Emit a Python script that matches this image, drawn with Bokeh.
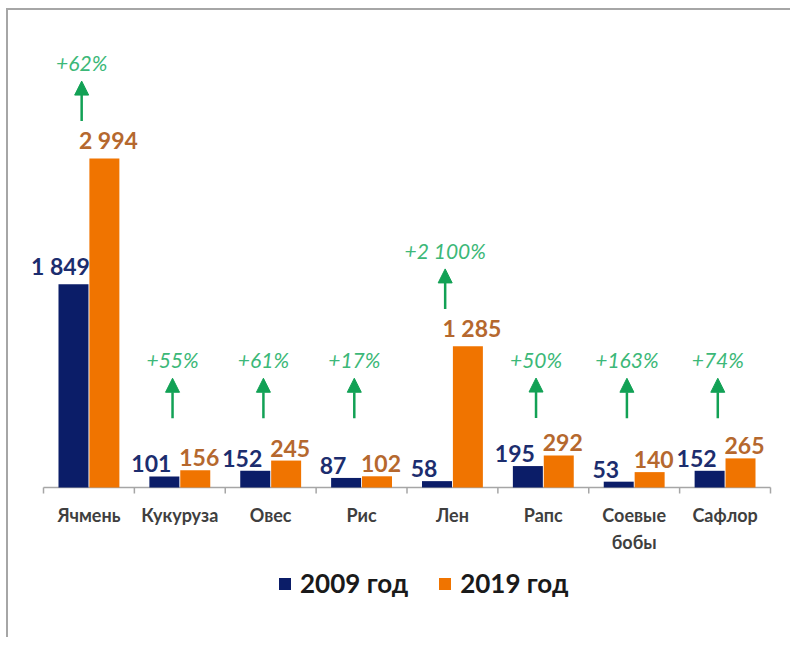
from bokeh.plotting import figure
from bokeh.models import (Range1d, Arrow, NormalHead, ColumnDataSource, Legend, LegendItem)
from bokeh.core.properties import value
from bokeh.embed import file_html
from bokeh.resources import INLINE

# ---- data ----
categories = ["Ячмень", "Кукуруза", "Овес", "Рис", "Лен", "Рапс", "Соевые\nбобы", "Сафлор"]
values_2009 = [1849, 101, 152, 87, 58, 195, 53, 152]
values_2019 = [2994, 156, 245, 102, 1285, 292, 140, 265]
growth_labels = ["+62%", "+55%", "+61%", "+17%", "+2 100%", "+50%", "+163%", "+74%"]
series_names = ["2009 год", "2019 год"]

# ---- styles ----
NAVY = "#0b1d68"
ORANGE = "#f07400"
NAVY_TXT = "#1c2d6e"
ORANGE_TXT = "#b5682e"
GREEN_TXT = "#3cb878"
GREEN_ARROW = "#12a155"
AXIS_GRAY = "#a6a6a6"
FONT = "Lato"

W, H = 784, 629
PX_PER_UNIT = 0.1099           # vertical scale (pixels per value unit)
CAT_PX = 90.875                # width of one category in pixels
LEFT_PX, BASE_PX = 35, 477     # category origin / baseline inside the canvas


def fmt(v):
    return f"{v:,}".replace(",", " ")


n = len(categories)
idx = list(range(n))
x09 = [i + 0.33 for i in idx]
x19 = [i + 0.67 for i in idx]
xa = [i + 0.42 for i in idx]
xc = [i + 0.5 for i in idx]
arrow_start = [max(v, 290) + 340 for v in values_2019]
arrow_end = [s + 364 for s in arrow_start]
tick_len = 6 / PX_PER_UNIT

src09 = ColumnDataSource(dict(x=x09, top=values_2009, lab=[fmt(v) for v in values_2009]))
src19 = ColumnDataSource(dict(x=x19, top=values_2019, lab=[fmt(v) for v in values_2019]))
srca = ColumnDataSource(dict(x=xa, ys=arrow_start, ye=arrow_end, lab=growth_labels))
srcc = ColumnDataSource(dict(x=xc, lab=categories))

x_range = Range1d(-LEFT_PX / CAT_PX, (W - LEFT_PX) / CAT_PX)
y_range = Range1d(-(H - BASE_PX) / PX_PER_UNIT, BASE_PX / PX_PER_UNIT)

p = figure(width=W, height=H, x_range=x_range, y_range=y_range,
           output_backend="svg", toolbar_location=None,
           x_axis_location=None, y_axis_location=None,
           min_border=0, min_border_left=0, min_border_right=0,
           min_border_top=0, min_border_bottom=0)
p.grid.visible = False
p.outline_line_color = None
p.background_fill_color = "white"
p.border_fill_color = "white"
p.styles = {"margin-left": "6px", "margin-top": "8px",
            "border-top": "2px solid #a6a6a6", "border-left": "2px solid #a6a6a6"}

# category axis (baseline + boundary ticks + labels)
p.segment(x0=[0], y0=[0], x1=[n], y1=[0], line_color=AXIS_GRAY, line_width=1.5)
p.segment(x0=list(range(n + 1)), y0=[0] * (n + 1), x1=list(range(n + 1)),
          y1=[-tick_len] * (n + 1), line_color=AXIS_GRAY, line_width=1.5)
p.text(x="x", y=0, text="lab", source=srcc, text_align="center", text_baseline="top",
       y_offset=16, text_color="#3f3f3f", text_font=value(FONT), text_font_style="bold",
       text_font_size="18px", text_line_height=1.25)

r09 = p.vbar(x="x", top="top", width=0.33, source=src09, fill_color=NAVY, line_color=None)
r19 = p.vbar(x="x", top="top", width=0.33, source=src19, fill_color=ORANGE, line_color=None)

p.text(x="x", y="top", text="lab", source=src09, text_align="center", text_baseline="bottom",
       x_offset=-13, y_offset=-4, text_color=NAVY_TXT, text_font=value(FONT),
       text_font_style="bold", text_font_size="23px")
p.text(x="x", y="top", text="lab", source=src19, text_align="center", text_baseline="bottom",
       x_offset=4, y_offset=-4, text_color=ORANGE_TXT, text_font=value(FONT),
       text_font_style="bold", text_font_size="23px")

p.add_layout(Arrow(end=NormalHead(size=14, fill_color=GREEN_ARROW, line_color=GREEN_ARROW),
                   x_start="x", y_start="ys", x_end="x", y_end="ye", source=srca,
                   line_color=GREEN_ARROW, line_width=2.5))
p.text(x="x", y="ye", text="lab", source=srca, text_align="center", text_baseline="bottom",
       y_offset=-6, text_color=GREEN_TXT, text_font=value(FONT), text_font_style="italic",
       text_font_size="21px")

legend = Legend(items=[LegendItem(label=series_names[0], renderers=[r09]),
                       LegendItem(label=series_names[1], renderers=[r19])],
                orientation="horizontal", location=(269, 40),
                label_text_font=FONT, label_text_font_style="bold", label_text_font_size="26px",
                label_text_color="#1a1a1a", glyph_width=15, glyph_height=15,
                label_standoff=8, spacing=29, border_line_color=None,
                background_fill_alpha=0, padding=0, margin=0)
p.add_layout(legend, "center")

open("out.html", "w").write(file_html(p, INLINE))
